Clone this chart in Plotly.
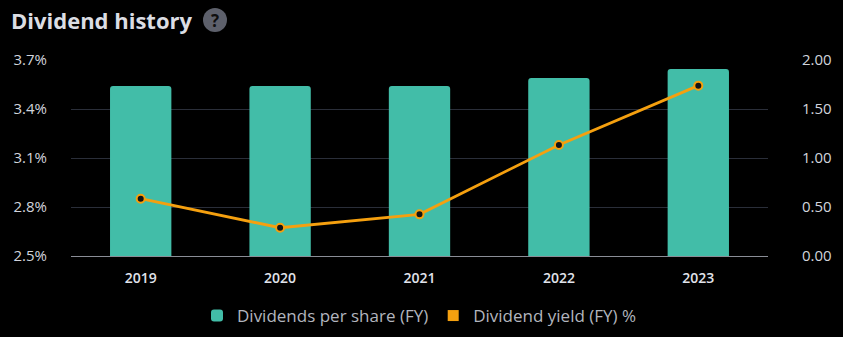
import plotly.graph_objects as go

years = ["2019", "2020", "2021", "2022", "2023"]
dividends_per_share = [1.735, 1.735, 1.735, 1.816, 1.908]
dividend_yield = [2.851, 2.673, 2.755, 3.180, 3.543]

left_ticks = [2.5, 2.8, 3.1, 3.4, 3.7]
left_labels = ["2.5%", "2.8%", "3.1%", "3.4%", "3.7%"]
right_ticks = [0, 0.5, 1.0, 1.5, 2.0]
right_labels = ["0.00", "0.50", "1.00", "1.50", "2.00"]

TEAL = "#42bda8"
ORANGE = "#f5a00f"
FONT = "Open Sans"

fig = go.Figure()
fig.add_trace(go.Bar(
    x=years, y=dividends_per_share, name="Dividends per share (FY)",
    marker=dict(color=TEAL, line=dict(width=0)), yaxis="y", hoverinfo="skip",
))
fig.add_trace(go.Scatter(
    x=[None], y=[None], name="Dividend yield (FY) %", yaxis="y2",
    mode="markers", marker=dict(symbol="square", size=11, color=ORANGE), hoverinfo="skip",
))
fig.add_trace(go.Scatter(
    x=years, y=dividend_yield, name="Dividend yield (FY) %", yaxis="y2",
    mode="lines+markers", showlegend=False,
    line=dict(color=ORANGE, width=2.8),
    marker=dict(size=8, color="#131313", line=dict(color=ORANGE, width=2)),
))

fig.update_layout(
    width=843, height=337,
    paper_bgcolor="#000000", plot_bgcolor="#000000",
    margin=dict(l=71, r=75, t=60, b=81, pad=0, autoexpand=False),
    barmode="overlay", bargap=0.56, barcornerradius=3,
    font=dict(family=FONT, color="#d1d4dc", size=15),
    showlegend=True,
    legend=dict(orientation="h", x=0.5, xanchor="center", y=-60/196, yanchor="middle",
                font=dict(size=17, color="#b2b5be", family=FONT),
                itemclick=False, traceorder="normal", itemwidth=30),
    xaxis=dict(showgrid=False, zeroline=False, showline=False, ticks="",
               tickfont=dict(size=14, color="#e0e3eb", family=FONT, weight=600),
               ticklabelstandoff=12, fixedrange=True),
    yaxis=dict(side="right", range=[0, 2.0], tickvals=right_ticks, ticktext=right_labels,
               showgrid=True, gridcolor="#2a2e39", gridwidth=1,
               zeroline=True, zerolinecolor="#8a8d96", zerolinewidth=1,
               showline=False, ticks="", ticklabelstandoff=33,
               tickfont=dict(size=15, color="#d1d4dc", family=FONT), fixedrange=True),
    yaxis2=dict(side="left", overlaying="y", range=[2.5, 3.7], tickvals=left_ticks,
                ticktext=left_labels, showgrid=False, zeroline=False, showline=False,
                ticks="", ticklabelstandoff=23,
                tickfont=dict(size=15, color="#d1d4dc", family=FONT), fixedrange=True),
    annotations=[
        dict(text="<b>Dividend history</b>", xref="paper", yref="paper", x=-71/697, y=1 + 40/196,
             xanchor="left", yanchor="middle", showarrow=False,
             font=dict(size=22, color="#dbdde3", family=FONT), xshift=9),
        dict(text="<b>?</b>", xref="paper", yref="paper", x=(215-71)/697, y=1 + 40/196,
             xanchor="center", yanchor="middle", showarrow=False,
             font=dict(size=17, color="#0f0f0f", family=FONT)),
    ],
    shapes=[
        dict(type="circle", xref="paper", yref="paper",
             x0=(203-71)/697, x1=(227-71)/697, y0=(256-32)/196, y1=(256-8)/196,
             fillcolor="#5d606b", line=dict(width=0), layer="below"),
    ],
)

fig.write_html("out.html")
